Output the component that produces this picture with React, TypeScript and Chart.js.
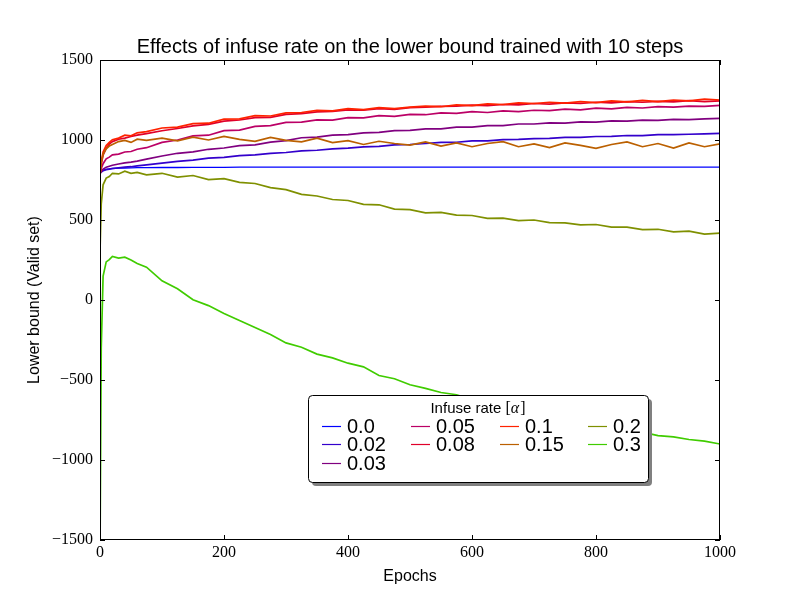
import { useEffect, useRef } from "react";
import { Chart, registerables } from "chart.js";

Chart.register(...registerables);

const EPOCHS = [
  0, 2, 5, 10, 15, 20, 30, 40, 50, 60, 75, 100, 125, 150, 175, 200, 225, 250,
  275, 300, 325, 350, 375, 400, 425, 450, 475, 500, 525, 550, 575, 600, 625,
  650, 675, 700, 725, 750, 775, 800, 825, 850, 875, 900, 925, 950, 975, 1000,
];

const RATES = ["0.0", "0.02", "0.03", "0.05", "0.08", "0.1", "0.15", "0.2", "0.3"];

const COLORS = [
  "#0000ff",
  "#3300cc",
  "#800080",
  "#bb0066",
  "#e0002a",
  "#ff2200",
  "#bb6000",
  "#7f9000",
  "#40cc00",
];

const rate00 = [
  790, 805, 812, 817, 820, 822, 824, 825, 826, 827, 827, 828, 828, 829, 829,
  829, 830, 830, 830, 830, 830, 830, 830, 830, 830, 830, 830, 830, 830, 830,
  830, 830, 830, 830, 830, 830, 830, 830, 830, 830, 830, 830, 830, 830, 830,
  830, 830, 830,
];
const rate02 = [
  790, 800, 808, 815, 818, 822, 826, 830, 833, 838, 845, 855, 866, 874, 887,
  892, 902, 907, 917, 922, 932, 936, 944, 949, 957, 960, 969, 972, 978, 985,
  986, 994, 995, 1002, 1004, 1009, 1010, 1016, 1017, 1022, 1023, 1028, 1027,
  1033, 1034, 1036, 1038, 1041,
];
const rate03 = [
  790, 806, 818, 830, 836, 842, 850, 857, 862, 868, 880, 900, 917, 926, 942,
  950, 965, 970, 987, 996, 1014, 1018, 1030, 1034, 1045, 1048, 1058, 1060,
  1069, 1070, 1080, 1081, 1090, 1090, 1100, 1100, 1107, 1106, 1113, 1112, 1119,
  1118, 1124, 1123, 1129, 1127, 1132, 1135,
];
const rate05 = [
  785, 822, 852, 882, 893, 907, 912, 925, 928, 942, 952, 985, 1000, 1026, 1030,
  1058, 1062, 1085, 1090, 1110, 1112, 1126, 1124, 1140, 1138, 1152, 1148, 1160,
  1158, 1170, 1166, 1177, 1172, 1182, 1177, 1186, 1183, 1193, 1188, 1199, 1194,
  1204, 1200, 1208, 1205, 1212, 1210, 1216,
];
const rate08 = [
  785, 850, 905, 948, 975, 990, 1005, 1012, 1022, 1030, 1040, 1058, 1072, 1088,
  1098, 1118, 1125, 1140, 1142, 1160, 1165, 1176, 1178, 1188, 1186, 1196, 1192,
  1202, 1205, 1210, 1212, 1218, 1214, 1222, 1220, 1228, 1224, 1232, 1228, 1236,
  1232, 1240, 1236, 1242, 1238, 1246, 1240, 1244,
];
const rate10 = [
  785, 862, 925, 965, 985, 1002, 1012, 1030, 1026, 1045, 1052, 1075, 1080,
  1102, 1105, 1130, 1132, 1152, 1150, 1170, 1172, 1185, 1182, 1196, 1190, 1202,
  1196, 1206, 1212, 1208, 1220, 1215, 1226, 1222, 1232, 1228, 1236, 1230, 1240,
  1234, 1244, 1238, 1248, 1240, 1250, 1244, 1256, 1250,
];
const rate15 = [
  780, 860, 912, 945, 962, 972, 990, 998, 985, 1005, 998, 1012, 995, 1018, 1000,
  1022, 1004, 992, 1016, 998, 988, 1012, 984, 996, 972, 992, 978, 968, 988, 962,
  982, 958, 978, 990, 958, 976, 952, 982, 966, 948, 972, 988, 958, 978, 950,
  982, 958, 976,
];
const rate20 = [
  300, 600, 720, 762, 772, 792, 788, 805, 792, 798, 782, 792, 768, 778, 752,
  758, 735, 728, 702, 690, 660, 650, 628, 622, 598, 595, 568, 565, 545, 548,
  530, 528, 510, 512, 496, 500, 484, 482, 470, 472, 456, 455, 440, 442, 426,
  430, 412, 418,
];
const rate30 = [
  -1600, -300, 150, 238, 252, 272, 262, 268, 250, 228, 205, 120, 70, 2, -35,
  -85, -128, -172, -215, -268, -295, -338, -362, -395, -418, -472, -492, -530,
  -552, -578, -592, -622, -638, -662, -676, -702, -716, -742, -756, -782, -796,
  -818, -826, -848, -856, -872, -882, -900,
];

const SERIES = [rate00, rate02, rate03, rate05, rate08, rate10, rate15, rate20, rate30];

const SANS = '"Liberation Sans", Arial, sans-serif';
const SERIF = '"Liberation Serif", "Times New Roman", serif';

const decorPlugin = {
  id: "decor",
  afterDraw(chart: Chart) {
    const { ctx, chartArea: a, scales } = chart;
    ctx.save();

    // frame
    ctx.strokeStyle = "#000";
    ctx.lineWidth = 1;
    ctx.strokeRect(a.left + 0.5, a.top + 0.5, a.right - a.left - 1, a.bottom - a.top - 1);

    // inward ticks on all sides
    const tl = 5;
    ctx.beginPath();
    scales.x.ticks.forEach((t) => {
      const px = Math.round(scales.x.getPixelForValue(t.value)) + 0.5;
      ctx.moveTo(px, a.bottom);
      ctx.lineTo(px, a.bottom - tl);
      ctx.moveTo(px, a.top);
      ctx.lineTo(px, a.top + tl);
    });
    scales.y.ticks.forEach((t) => {
      const py = Math.round(scales.y.getPixelForValue(t.value)) + 0.5;
      ctx.moveTo(a.left, py);
      ctx.lineTo(a.left + tl, py);
      ctx.moveTo(a.right, py);
      ctx.lineTo(a.right - tl, py);
    });
    ctx.stroke();

    // title and axis titles
    ctx.fillStyle = "#000";
    ctx.textAlign = "center";
    ctx.textBaseline = "alphabetic";
    ctx.font = `20px ${SANS}`;
    ctx.fillText(
      "Effects of infuse rate on the lower bound trained with 10 steps",
      (a.left + a.right) / 2,
      53
    );
    ctx.font = `16px ${SANS}`;
    ctx.fillText("Epochs", (a.left + a.right) / 2, 581);
    ctx.save();
    ctx.translate(39, (a.top + a.bottom) / 2);
    ctx.rotate(-Math.PI / 2);
    ctx.fillText("Lower bound (Valid set)", 0, 0);
    ctx.restore();

    // legend box
    const lx = 308, ly = 395, lw = 340, lh = 87;
    ctx.fillStyle = "#808080";
    ctx.beginPath();
    ctx.roundRect(lx + 4, ly + 4, lw, lh, 4);
    ctx.fill();
    ctx.fillStyle = "#fff";
    ctx.strokeStyle = "#000";
    ctx.lineWidth = 1;
    ctx.beginPath();
    ctx.roundRect(lx + 0.5, ly + 0.5, lw, lh, 4);
    ctx.fill();
    ctx.stroke();

    // legend title "Infuse rate [α]"
    ctx.textBaseline = "middle";
    ctx.textAlign = "left";
    const part1 = "Infuse rate ";
    ctx.font = `15px ${SANS}`;
    const w1 = ctx.measureText(part1).width;
    ctx.font = `16px ${SERIF}`;
    const wb = ctx.measureText("[").width;
    ctx.font = `italic 16px ${SERIF}`;
    const wa = ctx.measureText("α").width;
    const total = w1 + wb * 2 + wa + 1;
    let tx = 478 - total / 2;
    const ty = 409;
    ctx.fillStyle = "#000";
    ctx.font = `15px ${SANS}`;
    ctx.fillText(part1, tx, ty);
    tx += w1;
    ctx.font = `16px ${SERIF}`;
    ctx.fillText("[", tx, ty);
    tx += wb;
    ctx.font = `italic 16px ${SERIF}`;
    ctx.fillText("α", tx, ty);
    tx += wa + 1;
    ctx.font = `16px ${SERIF}`;
    ctx.fillText("]", tx, ty);

    // legend entries, column-major like matplotlib (3, 2, 2, 2)
    const colX = [322, 411, 500, 588];
    const rowY = [426, 444, 463];
    const perCol = [3, 2, 2, 2];
    let k = 0;
    ctx.font = `20px ${SANS}`;
    perCol.forEach((n, c) => {
      for (let r = 0; r < n; r++, k++) {
        const y = rowY[r];
        ctx.strokeStyle = COLORS[k];
        ctx.lineWidth = 1.2;
        ctx.beginPath();
        ctx.moveTo(colX[c], y + 0.5);
        ctx.lineTo(colX[c] + 19, y + 0.5);
        ctx.stroke();
        ctx.fillStyle = "#000";
        ctx.fillText(RATES[k], colX[c] + 25, y + 1);
      }
    });

    ctx.restore();
  },
};

export default function App() {
  const canvasRef = useRef<HTMLCanvasElement | null>(null);
  const chartRef = useRef<Chart | null>(null);

  useEffect(() => {
    if (!canvasRef.current) return;
    if (chartRef.current) chartRef.current.destroy();
    const ctx = canvasRef.current.getContext("2d");
    if (!ctx) return;

    chartRef.current = new Chart(ctx, {
      type: "line",
      data: {
        datasets: SERIES.map((vals, i) => ({
          label: RATES[i],
          data: EPOCHS.map((e, j) => ({ x: e, y: vals[j] })),
          borderColor: COLORS[i],
          backgroundColor: COLORS[i],
          borderWidth: i === 0 ? 1.3 : 1.7,
          pointRadius: 0,
          tension: 0,
          order: SERIES.length - i,
        })),
      },
      options: {
        animation: false,
        responsive: false,
        devicePixelRatio: 1,
        layout: { padding: { top: 60, right: 80, left: 0, bottom: 0 } },
        plugins: {
          legend: { display: false },
          tooltip: { enabled: false },
          title: { display: false },
        },
        scales: {
          x: {
            type: "linear",
            min: 0,
            max: 1000,
            grid: { display: false, drawTicks: false, tickLength: 0 },
            border: { display: false },
            ticks: {
              stepSize: 200,
              color: "#000",
              padding: 3,
              maxRotation: 0,
              font: { family: SERIF, size: 16 },
              callback: (v: any) => String(v),
            },
            afterFit: (s: any) => {
              s.height = 60;
            },
          },
          y: {
            type: "linear",
            min: -1500,
            max: 1500,
            grid: { display: false, drawTicks: false, tickLength: 0 },
            border: { display: false },
            ticks: {
              stepSize: 500,
              color: "#000",
              padding: 7,
              font: { family: SERIF, size: 16 },
              callback: (v: any) => (v < 0 ? "\u2212" + Math.abs(v) : String(v)),
            },
            afterFit: (s: any) => {
              s.width = 100;
            },
          },
        },
      },
      plugins: [decorPlugin],
    });

    return () => {
      if (chartRef.current) {
        chartRef.current.destroy();
        chartRef.current = null;
      }
    };
  }, []);

  return (
    <div
      style={{
        position: "fixed",
        left: 0,
        top: 0,
        width: "800px",
        height: "600px",
        background: "#fff",
      }}
    >
      <canvas ref={canvasRef} width={800} height={600}></canvas>
    </div>
  );
}
